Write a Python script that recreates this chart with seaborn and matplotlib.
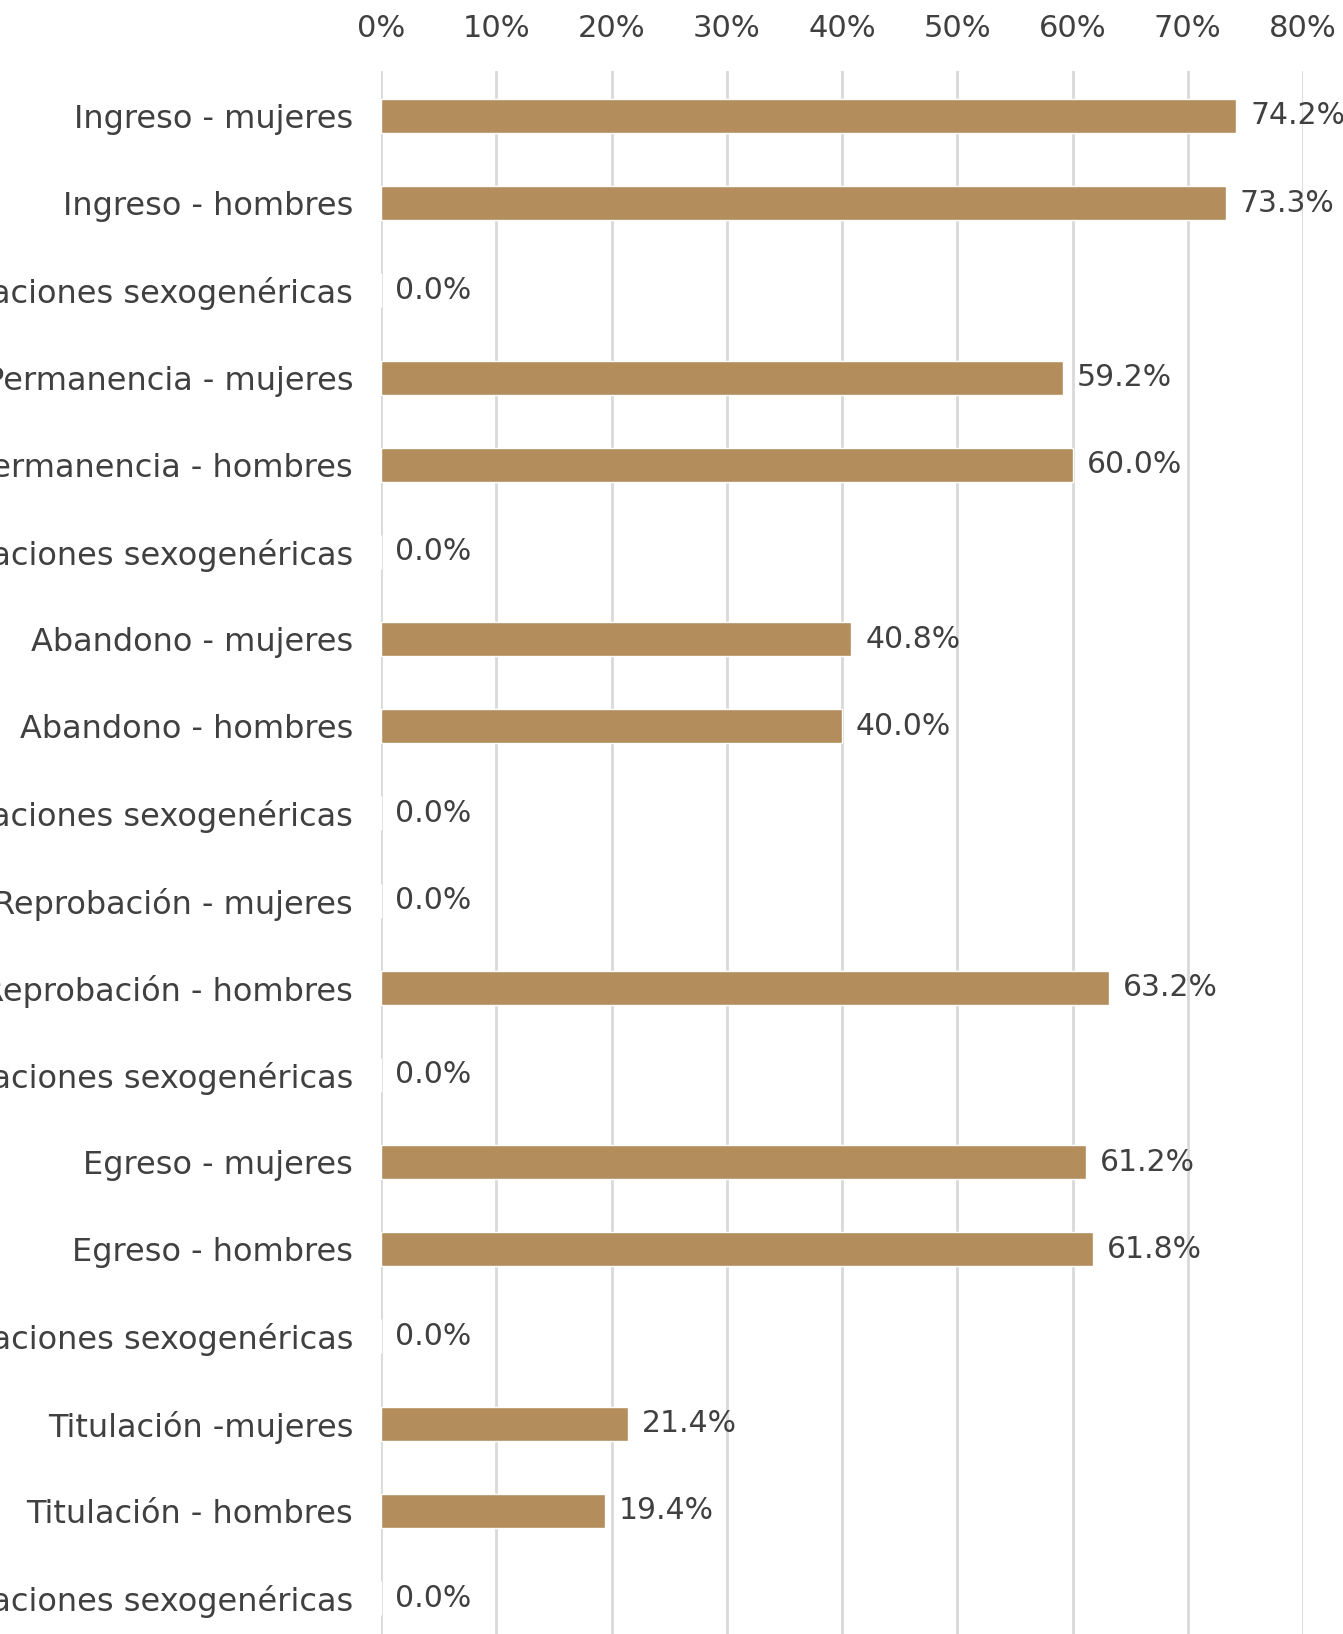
import matplotlib
matplotlib.use("Agg")
import matplotlib.pyplot as plt
import seaborn as sns
import pandas as pd

categories = [
    "Ingreso - mujeres",
    "Ingreso - hombres",
    "Ingreso - otras identificaciones sexogenéricas",
    "Permanencia - mujeres",
    "Permanencia - hombres",
    "Permanencia - otras identificaciones sexogenéricas",
    "Abandono - mujeres",
    "Abandono - hombres",
    "Abandono - otras identificaciones sexogenéricas",
    "Reprobación - mujeres",
    "Reprobación - hombres",
    "Reprobación - otras identificaciones sexogenéricas",
    "Egreso - mujeres",
    "Egreso - hombres",
    "Egreso - otras identificaciones sexogenéricas",
    "Titulación -mujeres",
    "Titulación - hombres",
    "Titulación - otras identificaciones sexogenéricas",
]
values = [74.2, 73.3, 0.0, 59.2, 60.0, 0.0, 40.8, 40.0, 0.0,
          0.0, 63.2, 0.0, 61.2, 61.8, 0.0, 21.4, 19.4, 0.0]
tick_values = [0, 10, 20, 30, 40, 50, 60, 70, 80]
tick_labels = [f"{t}%" for t in tick_values]

df = pd.DataFrame({"categoria": categories, "valor": values})

sns.set_theme(style="white")
plt.rcParams["font.family"] = ["DejaVu Sans"]

TEXT = "#404040"
BAR = "#B38D5B"
GRID = "#D9D9D9"

fig = plt.figure(figsize=(13.43, 16.34), dpi=100)
ax = fig.add_axes([381 / 1343, 0.0, (1303 - 381) / 1343, 1 - 71 / 1634])

sns.barplot(data=df, x="valor", y="categoria", color=BAR, width=0.39,
            saturation=1, orient="h", ax=ax, order=categories)

ax.set_xlim(0, 80)
ax.set_ylim(17 + 36 / 87.2, -45 / 87.2)
ax.set_xticks(tick_values)
ax.set_xticklabels(tick_labels)
ax.xaxis.tick_top()
ax.tick_params(axis="x", length=0, pad=20, labelsize=22, labelcolor=TEXT)
ax.tick_params(axis="y", length=0, pad=20, labelsize=23, labelcolor=TEXT)
ax.set_xlabel("")
ax.set_ylabel("")
for s in ax.spines.values():
    s.set_visible(False)
ax.grid(axis="x", color=GRID, linewidth=2)
ax.set_axisbelow(True)

for cont in ax.containers:
    ax.bar_label(cont, labels=[f"{v:.1f}%" for v in values], padding=10,
                 fontsize=21.5, color=TEXT)

fig.savefig("out.png", dpi=100, facecolor="white")
